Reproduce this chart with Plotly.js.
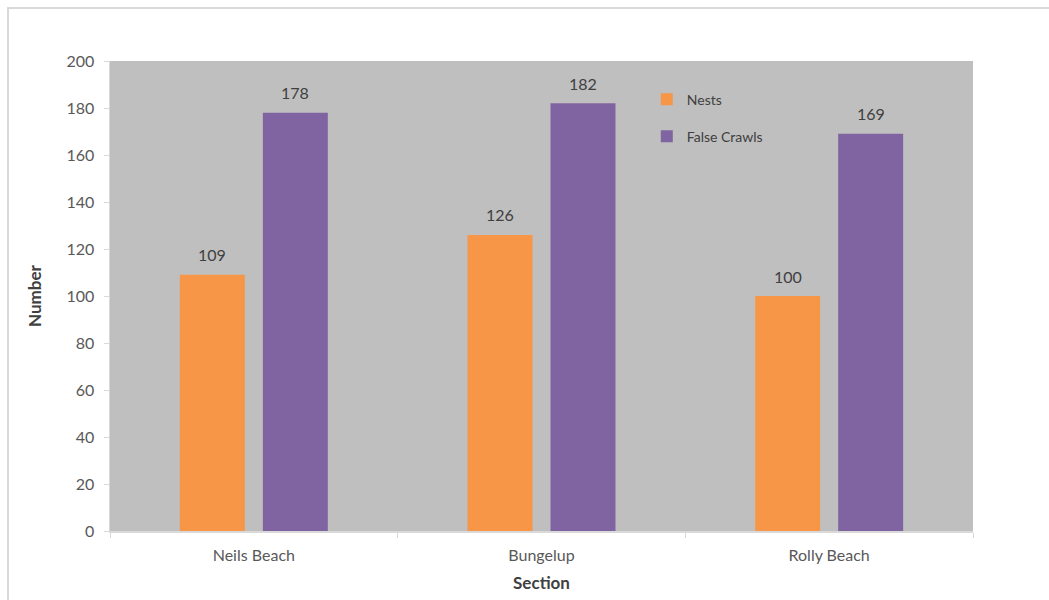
<!DOCTYPE html>
<html>
<head>
<meta charset="utf-8">
<script src="https://cdn.plot.ly/plotly-3.0.1.min.js"></script>
<style>
  html, body { margin: 0; padding: 0; background: #ffffff; overflow: hidden; }
  #frame {
    position: absolute; left: 7px; top: 7px; width: 1100px; height: 650px;
    border-left: 2px solid #d9d9d9; border-top: 2px solid #d9d9d9;
  }
  #chart { position: absolute; left: 0; top: 0; width: 1049px; height: 600px; }
</style>
</head>
<body>
<div id="frame"></div>
<div id="chart"></div>
<script>
// Nesting activity per beach section
const sections = ["Neils Beach", "Bungelup", "Rolly Beach"];
const nests = [109, 126, 100];
const falseCrawls = [178, 182, 169];

const fontFamily = "Lato, 'Open Sans', sans-serif";
const labelFont = { family: fontFamily, size: 16, color: "#404040" };

const traces = [
  {
    type: "bar", name: "Nests", legendgroup: "a",
    x: sections, y: nests, offsetgroup: "a",
    marker: { color: "#F79646" },
    hoverinfo: "x+y+name"
  },
  {
    type: "bar", name: "False Crawls", legendgroup: "b",
    x: sections, y: falseCrawls, offsetgroup: "b",
    marker: { color: "#8064A2" },
    hoverinfo: "x+y+name"
  }
];

// Value labels placed above each bar; horizontal offset follows the grouped bar layout
const catWidthPx = 863 / sections.length;
const slotPx = catWidthPx * (1 - 0.423) / 2;
function valueLabels(values, side) {
  return values.map((v, i) => ({
    x: sections[i], y: v, xref: "x", yref: "y",
    text: String(v), showarrow: false,
    xshift: side * slotPx / 2, yshift: 20,
    yanchor: "middle", font: labelFont
  }));
}

const layout = {
  width: 1049, height: 600,
  margin: { l: 110, r: 76, t: 61, b: 69 },
  paper_bgcolor: "rgba(0,0,0,0)",
  plot_bgcolor: "#BFBFBF",
  barmode: "group",
  bargap: 0.423,
  bargroupgap: 0.217,
  font: { family: fontFamily, size: 15, color: "#595959" },
  showlegend: true,
  legend: {
    x: 0.622, y: 0.952, xanchor: "left", yanchor: "top",
    bgcolor: "rgba(0,0,0,0)",
    font: { size: 14, color: "#404040" },
    traceorder: "grouped", tracegroupgap: 16,
    itemwidth: 30
  },
  annotations: valueLabels(nests, -1).concat(valueLabels(falseCrawls, 1)),
  xaxis: {
    type: "category",
    showline: true, linecolor: "#d9d9d9", linewidth: 1.5,
    ticks: "outside", tickson: "boundaries", ticklen: 5, tickcolor: "#d9d9d9",
    showgrid: false, zeroline: false,
    tickfont: { size: 16, color: "#595959" },
    ticklabelstandoff: 9,
    title: { text: "Section", font: { size: 17, color: "#404040", weight: "bold" }, standoff: 14 }
  },
  yaxis: {
    range: [0, 200], tick0: 0, dtick: 20,
    showline: true, linecolor: "#d9d9d9", linewidth: 1.5,
    ticks: "outside", ticklen: 5, tickcolor: "#d9d9d9",
    showgrid: false, zeroline: false,
    tickfont: { size: 16, color: "#595959" },
    ticklabelstandoff: 6,
    title: { text: "Number", font: { size: 17, color: "#404040", weight: "bold" }, standoff: 20 }
  }
};

Plotly.newPlot("chart", traces, layout, { displayModeBar: false, staticPlot: true });
</script>
</body>
</html>
